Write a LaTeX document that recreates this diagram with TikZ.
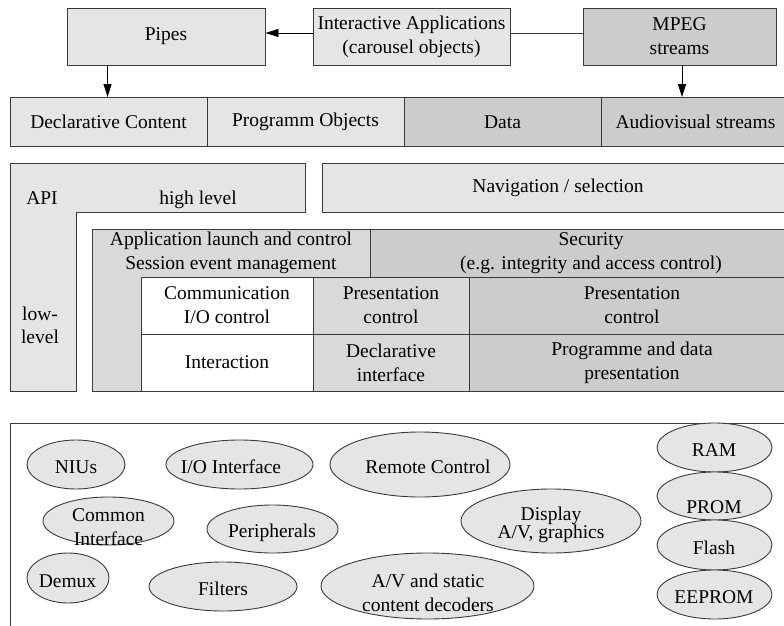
\documentclass[tikz,border=0pt]{standalone}
\usepackage{fontspec}
\setmainfont{Liberation Serif}
\usetikzlibrary{arrows.meta,shapes.geometric}
\definecolor{lightfill}{HTML}{E5E5E5}
\definecolor{midfill}{HTML}{D9D9D9}
\definecolor{darkfill}{HTML}{CCCCCC}
\definecolor{edge}{HTML}{3A3A3A}
% two centred lines whose baseline is that of the first line
\newcommand{\twolines}[3]{\vtop{\baselineskip=#1\lineskiplimit=-50pt\lineskip=0pt\halign{\hfil##\hfil\cr#2\cr#3\cr}}}
\begin{document}
\begin{tikzpicture}[x=1pt,y=-1pt,
  every node/.style={font=\fontsize{19.5}{24}\selectfont, inner sep=0pt},
  cell/.style={draw=edge, line width=0.9pt, align=center},
  lbl/.style={align=center},
  ell/.style={ellipse, draw=edge, line width=0.9pt, fill=lightfill},
  arr/.style={draw=black, line width=0.9pt, -{Triangle[length=13pt,width=8pt]}},
  wire/.style={draw=edge, line width=0.9pt}]
\useasboundingbox (0,0) rectangle (784,626);
\clip (0,0) rectangle (784,626);

% sources
\node[cell, fill=lightfill, minimum width=198pt, minimum height=57pt] (pipes) at (166,36.5) {Pipes};
\node[cell, fill=lightfill, minimum width=197pt, minimum height=57pt] (apps) at (411.5,36.5) {Interactive Applications\\(carousel objects)};
\node[cell, fill=darkfill, minimum width=193pt, minimum height=57pt] (mpeg) at (679.5,36.5) {MPEG\\streams};

% content types
\node[cell, fill=lightfill, minimum width=197pt, minimum height=49pt] (declc) at (108.5,122) {Declarative Content};
\node[cell, fill=lightfill, minimum width=197pt, minimum height=49pt] (progobj) at (305.5,122) {Programm Objects};
\node[cell, fill=darkfill, minimum width=197pt, minimum height=49pt] (data) at (502.5,122) {Data};
\node[cell, fill=darkfill, minimum width=189pt, minimum height=49pt] (avs) at (695.5,122) {Audiovisual streams};

% connectors
\draw[arr] ([yshift=3.5pt]apps.west) -- ([yshift=3.5pt]pipes.east);
\draw[wire] ([yshift=3.5pt]mpeg.west) -- ([yshift=3.5pt]apps.east);
\coordinate (pdrop) at ([xshift=41pt]pipes.south west);
\draw[arr] (pdrop) -- (pdrop |- declc.north);
\coordinate (mdrop) at ([xshift=2.5pt]mpeg.south);
\draw[arr] (mdrop) -- (mdrop |- avs.north);

% API frame
\draw[wire, fill=lightfill] (10,163) -- (305,163) -- (305,212) -- (76,212) -- (76,391) -- (10,391) -- cycle;
\node[anchor=base] (api) at (42,204) {API};
\node[anchor=base] (hl) at (198,204) {high level};
\node[anchor=base] (ll) at (40,320) {\twolines{23pt}{low-}{level}};
\node[cell, fill=lightfill, minimum width=472pt, minimum height=49pt] (nav) at (558,187.5) {Navigation / selection};

% middleware layers
\draw[wire, fill=midfill] (92,229) -- (370,229) -- (370,277) -- (141,277) -- (141,391) -- (92,391) -- cycle;
\node[lbl] (launch) at (231,253) {Application launch and control\\Session event management};
\node[cell, fill=darkfill, minimum width=442pt, minimum height=48pt] (sec) at (591,253) {Security\\(e.g. integrity and access control)};
\node[cell, fill=white, minimum width=172pt, minimum height=57pt] (comm) at (227,305.5) {Communication\\I/O control};
\node[cell, fill=white, minimum width=172pt, minimum height=57pt] (inter) at (227,362.5) {Interaction};
\node[cell, fill=midfill, minimum width=156pt, minimum height=57pt] (presmid) at (391,305.5) {Presentation\\control};
\node[cell, fill=midfill, minimum width=156pt, minimum height=57pt] (declif) at (391,362.5) {Declarative\\interface};
\node[cell, fill=darkfill, minimum width=326pt, minimum height=57pt] (presr) at (632,305.5) {Presentation\\control};
\node[cell, fill=darkfill, minimum width=326pt, minimum height=57pt] (progdata) at (632,362.5) {Programme and data\\presentation};

% hardware
\node[cell, minimum width=790pt, minimum height=217pt] (hw) at (405,531.5) {};
\node[ell, minimum width=98pt, minimum height=49pt] (nius) at (76,464.5) {};
\node[ell, minimum width=147pt, minimum height=49pt] (io) at (239.5,464.5) {};
\node[ell, minimum width=180pt, minimum height=65pt] (remote) at (420,464.5) {};
\node[ell, minimum width=131pt, minimum height=48pt] (ci) at (108.5,521) {};
\node[ell, minimum width=131pt, minimum height=48pt] (periph) at (272.5,529) {};
\node[ell, minimum width=180pt, minimum height=64pt] (display) at (551,521) {};
\node[ell, minimum width=82pt, minimum height=50pt] (demux) at (68,578) {};
\node[ell, minimum width=148pt, minimum height=49pt] (filters) at (223,586.5) {};
\node[ell, minimum width=213pt, minimum height=66pt] (avdec) at (427.5,586) {};
\node[ell, minimum width=115pt, minimum height=49pt] (ram) at (714.5,447.5) {};
\node[ell, minimum width=115pt, minimum height=48pt] (prom) at (714.5,496) {};
\node[ell, minimum width=115pt, minimum height=50pt] (flash) at (714.5,545) {};
\node[ell, minimum width=115pt, minimum height=49pt] (eeprom) at (714.5,594.5) {};

\node[anchor=base] (t-nius) at (76,473) {NIUs};
\node[anchor=base] (t-io) at (231,473) {I/O Interface};
\node[anchor=base] (t-remote) at (428,473) {Remote Control};
\node[anchor=base] (t-ci) at (108.5,521) {\twolines{24pt}{Common}{Interface}};
\node[anchor=base] (t-periph) at (272,537) {Peripherals};
\node[anchor=base] (t-display) at (551,520) {\twolines{18pt}{Display}{A/V, graphics}};
\node[anchor=base] (t-demux) at (67.5,587) {Demux};
\node[anchor=base] (t-filters) at (223,595) {Filters};
\node[anchor=base] (t-avdec) at (428,587) {\twolines{24pt}{A/V and static}{content decoders}};
\node[anchor=base] (t-ram) at (714,456) {RAM};
\node[anchor=base] (t-prom) at (714,513) {PROM};
\node[anchor=base] (t-flash) at (714,554) {Flash};
\node[anchor=base] (t-eeprom) at (714,603) {EEPROM};
\end{tikzpicture}
\end{document}
